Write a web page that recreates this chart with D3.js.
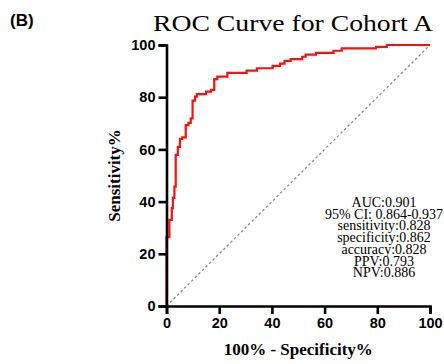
<html>
    <body style="margin:0">
        <script src="https://d3js.org/d3.v7.min.js"></script>

        <div id="my_dataviz"></div>

        <script>
            // ROC curve corner points (100% - specificity, sensitivity)
            var fpr = [0, 0, 1.1, 2.0, 2.4, 3.0, 3.5, 4.3, 5.1, 6.0, 7.3, 8.3, 9.2, 9.9, 10.8, 11.5,
                       15.0, 16.9, 18.1, 19.3, 23.1, 30.4, 34.3, 40.3, 43.1, 44.8, 47.1, 51.5, 52.8,
                       56.7, 63.4, 66.5, 79.5, 83.6, 100];
            var tpr = [0, 26.4, 33.0, 37.5, 41.4, 45.7, 57.9, 61.0, 64.0, 64.6, 69.3, 70.2, 71.9, 78.7, 80.2, 81.2,
                       82.1, 82.8, 86.9, 87.9, 89.3, 90.2, 91.1, 92.0, 92.9, 93.9, 94.6, 95.5, 96.3,
                       97.0, 97.8, 98.7, 99.3, 100, 100];
            var tickValues = [0, 20, 40, 60, 80, 100];
            var statsLines = ["AUC:0.901", "95% CI: 0.864-0.937", "sensitivity:0.828",
                              "specificity:0.862", "accuracy:0.828", "PPV:0.793", "NPV:0.886"];

            var margin = {top: 45, right: 14, bottom: 58, left: 166.5},
                width = 444 - margin.left - margin.right,
                height = 364 - margin.top - margin.bottom;

            var root = d3.select("#my_dataviz")
              .append("svg")
                .attr("width", 444)
                .attr("height", 364);
            var svg = root.append("g")
                .attr("transform", "translate(" + margin.left + "," + margin.top + ")");

            var x = d3.scaleLinear().domain([0, 100]).range([0, width]);
            var y = d3.scaleLinear().domain([0, 100]).range([height, 0]);

            // diagonal reference line
            svg.append("line")
              .attr("x1", x(0)).attr("y1", y(0))
              .attr("x2", x(100)).attr("y2", y(100))
              .attr("stroke", "#8a8a8a")
              .attr("stroke-width", 1.3)
              .attr("stroke-dasharray", "2.5,2.5");

            // ROC curve
            var pts = fpr.map(function(d, i) { return [d, tpr[i]]; });
            svg.append("path")
              .datum(pts)
              .attr("fill", "none")
              .attr("stroke", "#ff1010")
              .attr("stroke-width", 2.2)
              .attr("d", d3.line()
                .curve(d3.curveStepAfter)
                .x(function(d) { return x(d[0]); })
                .y(function(d) { return y(d[1]); }));

            // axes
            var xAxis = svg.append("g")
              .attr("transform", "translate(0," + height + ")")
              .call(d3.axisBottom(x).tickValues(tickValues).tickSize(8).tickPadding(4));
            var yAxis = svg.append("g")
              .call(d3.axisLeft(y).tickValues(tickValues).tickSize(8).tickPadding(3));
            [xAxis, yAxis].forEach(function(a) {
              a.select(".domain").attr("stroke", "#000").attr("stroke-width", 2.6);
              a.selectAll(".tick line").attr("stroke", "#000").attr("stroke-width", 2.6);
              a.selectAll("text")
                .attr("fill", "#000")
                .style("font-family", "Liberation Sans, Arial, sans-serif")
                .style("font-weight", "bold")
                .style("font-size", "14.5px");
            });

            // axis titles
            svg.append("text")
              .attr("x", width / 2)
              .attr("y", height + 49)
              .attr("text-anchor", "middle")
              .style("font-family", "Liberation Serif, Times New Roman, serif")
              .style("font-weight", "bold")
              .style("font-size", "17px")
              .text("100% - Specificity%");
            svg.append("text")
              .attr("transform", "translate(-47," + (height / 2) + ") rotate(-90)")
              .attr("text-anchor", "middle")
              .style("font-family", "Liberation Serif, Times New Roman, serif")
              .style("font-weight", "bold")
              .style("font-size", "17px")
              .text("Sensitivity%");

            // title and panel letter
            root.append("text")
              .attr("x", 293)
              .attr("y", 31)
              .attr("text-anchor", "middle")
              .attr("textLength", 280)
              .attr("lengthAdjust", "spacingAndGlyphs")
              .style("font-family", "Liberation Serif, Times New Roman, serif")
              .style("font-size", "24px")
              .text("ROC Curve for Cohort A");
            root.append("text")
              .attr("x", 10)
              .attr("y", 26)
              .style("font-family", "Liberation Sans, Arial, sans-serif")
              .style("font-weight", "bold")
              .style("font-size", "17px")
              .text("(B)");

            // statistics block
            svg.append("g")
              .selectAll("text")
              .data(statsLines)
              .enter()
              .append("text")
                .attr("x", 384 - margin.left)
                .attr("y", function(d, i) { return 207 - margin.top + i * 11.7; })
                .attr("text-anchor", "middle")
                .style("font-family", "Liberation Serif, Times New Roman, serif")
                .style("font-size", "14px")
                .text(function(d) { return d; });
        </script>
    </body>
</html>
